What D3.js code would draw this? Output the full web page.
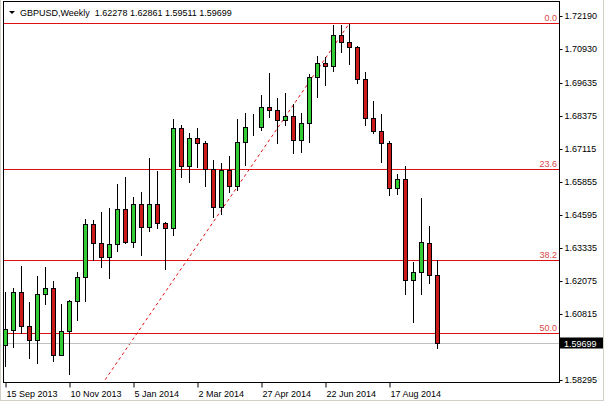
<!DOCTYPE html>
<html>
<head>
<meta charset="utf-8">
<script src="https://cdn.jsdelivr.net/npm/d3@7"></script>
<style>
  html, body { margin: 0; padding: 0; background: #fff; }
  svg { display: block; font-family: 'Liberation Sans', Arial, sans-serif; }
</style>
</head>
<body>
<div id="chart"></div>
<script>
// GBPUSD weekly bars, week of 15 Sep 2013 up to the week of 28 Sep 2014.
const opens = [
  1.5960, 1.6020, 1.6164, 1.6033, 1.5982, 1.6158, 1.6181, 1.5924, 1.6014, 1.6129,
  1.6220, 1.6423, 1.6350, 1.6299, 1.6346, 1.6481, 1.6356, 1.6501, 1.6414, 1.6501,
  1.6427, 1.6410, 1.6789, 1.6644, 1.6751, 1.6734, 1.6636, 1.6489, 1.6632, 1.6571,
  1.6738, 1.6796, 1.6794, 1.6872, 1.6859, 1.6821, 1.6836, 1.6744, 1.6811, 1.6984,
  1.7039, 1.7028, 1.7146, 1.7118, 1.7099, 1.6980, 1.6830, 1.6779, 1.6732, 1.6561,
  1.6596, 1.6209, 1.6239, 1.6350, 1.62278
];
const highs = [
  1.6164, 1.6179, 1.6263, 1.6126, 1.6225, 1.6258, 1.6207, 1.6117, 1.6135, 1.6239,
  1.6442, 1.6440, 1.6469, 1.6485, 1.6578, 1.6604, 1.6529, 1.6548, 1.6678, 1.6625,
  1.6433, 1.6824, 1.6801, 1.6770, 1.6789, 1.6740, 1.6670, 1.6657, 1.6683, 1.6824,
  1.6847, 1.6843, 1.6916, 1.7000, 1.6907, 1.6923, 1.6881, 1.6847, 1.6996, 1.7067,
  1.7064, 1.7186, 1.7186, 1.7190, 1.7105, 1.7005, 1.6894, 1.6843, 1.6740, 1.6616,
  1.6647, 1.6277, 1.6523, 1.6417, 1.62861
];
const lows = [
  1.5883, 1.5953, 1.6007, 1.5913, 1.5892, 1.6117, 1.5900, 1.5922, 1.5851, 1.6056,
  1.6130, 1.6286, 1.6260, 1.6216, 1.6322, 1.6350, 1.6337, 1.6305, 1.6399, 1.6408,
  1.6250, 1.6382, 1.6604, 1.6583, 1.6642, 1.6568, 1.6452, 1.6463, 1.6546, 1.6555,
  1.6651, 1.6763, 1.6783, 1.6834, 1.6734, 1.6801, 1.6696, 1.6698, 1.6737, 1.6911,
  1.6954, 1.7009, 1.7082, 1.7035, 1.6962, 1.6804, 1.6770, 1.6659, 1.6536, 1.6540,
  1.6156, 1.6049, 1.6158, 1.6199, 1.59511
];
const closes = [
  1.6021, 1.6164, 1.6033, 1.5982, 1.6158, 1.6181, 1.5925, 1.6015, 1.6129, 1.6220,
  1.6423, 1.6350, 1.6299, 1.6346, 1.6481, 1.6356, 1.6501, 1.6414, 1.6501, 1.6427,
  1.6410, 1.6789, 1.6644, 1.6751, 1.6734, 1.6636, 1.6489, 1.6632, 1.6571, 1.6738,
  1.6796, 1.6796, 1.6872, 1.6859, 1.6821, 1.6836, 1.6744, 1.6811, 1.6984, 1.7039,
  1.7028, 1.7146, 1.7118, 1.7099, 1.6980, 1.6830, 1.6779, 1.6732, 1.6561, 1.6596,
  1.6209, 1.6239, 1.6354, 1.6229, 1.59699
];

// Time axis labels and the bars they sit on.
const dateTickBars = [0, 8, 16, 24, 32, 40, 48];
const dateTickLabels = [
  '15 Sep 2013', '10 Nov 2013', '5 Jan 2014', '2 Mar 2014',
  '27 Apr 2014', '22 Jun 2014', '17 Aug 2014'
];

// Price axis labels.
const priceTicks = [
  1.72190, 1.70930, 1.69635, 1.68375, 1.67115, 1.65855,
  1.64595, 1.63335, 1.62075, 1.60815, 1.58295
];

// Fibonacci retracement drawn from the low to the July high.
const fibLevels = [0.0, 23.6, 38.2, 50.0];
const fibHigh = 1.7192;
const fibLow = 1.4826;
const fibHighBar = 43;
const fibLowBar = -10;

const symbolTitle = 'GBPUSD,Weekly';
const lastBar = ['1.62278', '1.62861', '1.59511', '1.59699'];
const lastPrice = 1.59699;

function chart() {
  const attrs = {
    svgWidth: 604,
    svgHeight: 402,
    frameLeft: 3,
    frameTop: 1,
    frameRight: 559,
    frameBottom: 382,
    container: '#chart',
    bullColor: '#33cc33',
    bearColor: '#cc1a1a',
    fibColor: '#e01010',
    fontSize: 9
  };

  const container = d3.select(attrs.container);

  // Scales.
  const xScale = d3.scaleLinear()
    .domain([0, 54])
    .range([5.5, 437.5]);

  const yScale = d3.scaleLinear()
    .domain([1.58295, 1.72190])
    .range([379.5, 16]);

  const px = v => Math.round(v) + 0.5;

  const svg = container.append('svg')
    .attr('width', attrs.svgWidth)
    .attr('height', attrs.svgHeight)
    .style('font-size', attrs.fontSize + 'px');

  // Window edge.
  svg.append('rect')
    .attr('x', 0.5)
    .attr('y', -1)
    .attr('width', attrs.svgWidth - 1)
    .attr('height', attrs.svgHeight - 0.5)
    .attr('fill', '#fff')
    .attr('stroke', '#d4d0c8');

  svg.append('defs').append('clipPath')
    .attr('id', 'plot-clip')
    .append('rect')
    .attr('x', attrs.frameLeft + 1)
    .attr('y', attrs.frameTop + 1)
    .attr('width', attrs.frameRight - attrs.frameLeft - 1)
    .attr('height', attrs.frameBottom - attrs.frameTop - 1);

  const plot = svg.append('g').attr('clip-path', 'url(#plot-clip)');

  // Fibonacci levels, drawn as one pixel high strips.
  const fibPrice = lvl => fibHigh - (fibHigh - fibLow) * lvl / 100;

  plot.selectAll('.fib-line')
    .data(fibLevels)
    .join('rect')
    .attr('class', 'fib-line')
    .attr('x', attrs.frameLeft)
    .attr('width', attrs.frameRight - attrs.frameLeft)
    .attr('y', d => Math.round(yScale(fibPrice(d))))
    .attr('height', 1)
    .attr('shape-rendering', 'crispEdges')
    .attr('fill', attrs.fibColor);

  plot.selectAll('.fib-label')
    .data(fibLevels)
    .join('text')
    .attr('class', 'fib-label')
    .attr('x', attrs.frameRight - 2)
    .attr('y', d => Math.round(yScale(fibPrice(d))) - 2)
    .attr('text-anchor', 'end')
    .attr('fill', '#d84848')
    .text(d => d.toFixed(1));

  // Dashed trend line of the retracement.
  plot.append('line')
    .attr('x1', xScale(fibLowBar))
    .attr('y1', yScale(fibLow))
    .attr('x2', xScale(fibHighBar))
    .attr('y2', yScale(fibHigh))
    .attr('stroke', attrs.fibColor)
    .attr('stroke-width', 1)
    .attr('stroke-dasharray', '3 3');

  // Last price line.
  plot.append('rect')
    .attr('x', attrs.frameLeft)
    .attr('width', attrs.frameRight - attrs.frameLeft)
    .attr('y', Math.round(yScale(lastPrice)))
    .attr('height', 1)
    .attr('shape-rendering', 'crispEdges')
    .attr('fill', '#c0c0c0');

  // Candles.
  const bars = d3.range(opens.length).map(i => ({
    i: i,
    o: opens[i],
    h: highs[i],
    l: lows[i],
    c: closes[i]
  }));

  const candle = plot.selectAll('.candle')
    .data(bars)
    .join('g')
    .attr('class', 'candle');

  candle.append('line')
    .attr('x1', d => xScale(d.i))
    .attr('x2', d => xScale(d.i))
    .attr('y1', d => Math.round(yScale(d.h)))
    .attr('y2', d => Math.round(yScale(d.l)) + 1)
    .attr('stroke', '#000');

  candle.append('rect')
    .attr('x', d => xScale(d.i) - 2)
    .attr('width', 4)
    .attr('y', d => px(yScale(Math.max(d.o, d.c))))
    .attr('height', d => Math.max(0, Math.round(yScale(Math.min(d.o, d.c))) - Math.round(yScale(Math.max(d.o, d.c)))))
    .attr('fill', d => d.c > d.o ? attrs.bullColor : (d.c < d.o ? attrs.bearColor : '#000'))
    .attr('stroke', '#000');

  // Frame.
  svg.append('rect')
    .attr('x', attrs.frameLeft + 0.5)
    .attr('y', attrs.frameTop + 0.5)
    .attr('width', attrs.frameRight - attrs.frameLeft)
    .attr('height', attrs.frameBottom - attrs.frameTop)
    .attr('fill', 'none')
    .attr('stroke', '#000');

  // Price axis.
  const yAxis = d3.axisRight(yScale)
    .tickValues(priceTicks)
    .tickFormat(d3.format('.5f'))
    .tickSize(3)
    .tickPadding(2);

  const yAxisG = svg.append('g')
    .attr('transform', 'translate(' + (attrs.frameRight + 0.5) + ',0)')
    .call(yAxis);
  yAxisG.select('.domain').remove();
  yAxisG.selectAll('.tick line').attr('stroke', '#000');
  yAxisG.selectAll('.tick text')
    .attr('fill', '#000')
    .style('font-size', attrs.fontSize + 'px')
    .style('font-family', null);
  yAxisG.selectAll('.tick').attr('transform', d => 'translate(0,' + px(yScale(d)) + ')');

  // Date axis.
  const xAxis = d3.axisBottom(xScale)
    .tickValues(dateTickBars)
    .tickFormat((d, i) => dateTickLabels[i])
    .tickSize(5)
    .tickPadding(3);

  const xAxisG = svg.append('g')
    .attr('transform', 'translate(0,' + (attrs.frameBottom + 0.5) + ')')
    .call(xAxis);
  xAxisG.select('.domain').remove();
  xAxisG.selectAll('.tick line').attr('stroke', '#000');
  xAxisG.selectAll('.tick text')
    .attr('text-anchor', 'start')
    .attr('x', 0.5)
    .attr('fill', '#000')
    .style('font-size', attrs.fontSize + 'px')
    .style('font-family', null);

  // Last price marker over the axis.
  const lastY = px(yScale(lastPrice));
  svg.append('rect')
    .attr('x', attrs.frameRight + 1)
    .attr('y', lastY - 6)
    .attr('width', 43)
    .attr('height', 11)
    .attr('fill', '#000');
  svg.append('text')
    .attr('x', attrs.frameRight + 5)
    .attr('y', lastY + 3)
    .attr('fill', '#fff')
    .text(lastPrice.toFixed(5));

  // Header.
  svg.append('path')
    .attr('d', 'M9,11 L15,11 L12,14 Z')
    .attr('fill', '#000');
  svg.append('text')
    .attr('x', 20)
    .attr('y', 16)
    .attr('fill', '#000')
    .text(symbolTitle + '  ' + lastBar.join(' '))
    .style('white-space', 'pre');
}

chart();
</script>
</body>
</html>
